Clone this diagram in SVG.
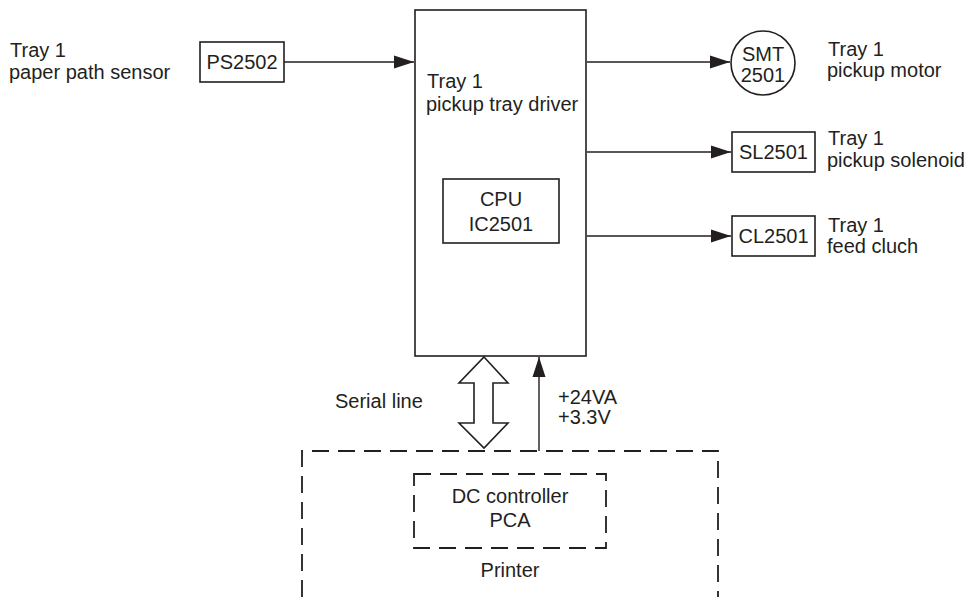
<svg xmlns="http://www.w3.org/2000/svg" width="968" height="597" viewBox="0 0 968 597">
<style>
text{font-family:"Liberation Sans",Arial,sans-serif;font-size:20px;fill:#231f20}
.c{text-anchor:middle}
.box{fill:#fff;stroke:#231f20;stroke-width:1.6}
.ln{fill:none;stroke:#231f20;stroke-width:1.4}
.dash{fill:none;stroke:#231f20;stroke-width:1.8;stroke-dasharray:17 9}
</style>
<defs>
<marker id="ah" markerWidth="20" markerHeight="14" refX="20" refY="7" orient="auto" markerUnits="userSpaceOnUse">
<path d="M0,0.5 L20,7 L0,13.5 Z" fill="#231f20"/>
</marker>
</defs>
<rect width="968" height="597" fill="#fff"/>

<g id="printer">
<path class="dash" d="M302,597 V451 H718 V597"/>
<text class="c" x="510" y="577">Printer</text>
</g>
<g id="dc-controller">
<rect class="dash" x="414" y="474" width="192" height="74" stroke-width="1.6"/>
<text class="c" x="510" y="503">DC controller</text>
<text class="c" x="510" y="527">PCA</text>
</g>

<g id="driver">
<rect class="box" x="415" y="10" width="171" height="346"/>
<text x="427" y="88">Tray 1</text>
<text x="426" y="111">pickup tray driver</text>
</g>
<g id="cpu">
<rect class="box" x="443" y="179" width="116" height="64"/>
<text class="c" x="501" y="206">CPU</text>
<text class="c" x="501" y="231">IC2501</text>
</g>

<g id="ps2502">
<rect class="box" x="200" y="42" width="84" height="40"/>
<text class="c" x="242" y="69">PS2502</text>
<text x="10" y="57">Tray 1</text>
<text x="9" y="79">paper path sensor</text>
</g>

<g id="smt2501">
<circle class="box" cx="763" cy="63" r="32"/>
<text class="c" x="763" y="61">SMT</text>
<text class="c" x="763" y="82">2501</text>
<text x="828" y="56">Tray 1</text>
<text x="827" y="77">pickup motor</text>
</g>

<g id="sl2501">
<rect class="box" x="732" y="132" width="83" height="40"/>
<text class="c" x="773.5" y="159">SL2501</text>
<text x="828" y="145">Tray 1</text>
<text x="827" y="167">pickup solenoid</text>
</g>

<g id="cl2501">
<rect class="box" x="732" y="216" width="83" height="40"/>
<text class="c" x="773.5" y="243">CL2501</text>
<text x="828" y="232">Tray 1</text>
<text x="827" y="253">feed cluch</text>
</g>

<g id="connectors">
<line class="ln" x1="284" y1="62" x2="414" y2="62" marker-end="url(#ah)"/>
<line class="ln" x1="587" y1="62" x2="730" y2="62" marker-end="url(#ah)"/>
<line class="ln" x1="587" y1="152" x2="731" y2="152" marker-end="url(#ah)"/>
<line class="ln" x1="587" y1="236" x2="731" y2="236" marker-end="url(#ah)"/>
<line class="ln" x1="539" y1="451" x2="539" y2="357" marker-end="url(#ah)"/>
<polygon class="box" points="484,357 508,383 493,383 493,423 508,423 484,448 459,423 474,423 474,383 459,383"/>
</g>
<g id="labels">
<text x="335" y="408">Serial line</text>
<text x="558" y="404">+24VA</text>
<text x="558" y="424">+3.3V</text>
</g>
</svg>
